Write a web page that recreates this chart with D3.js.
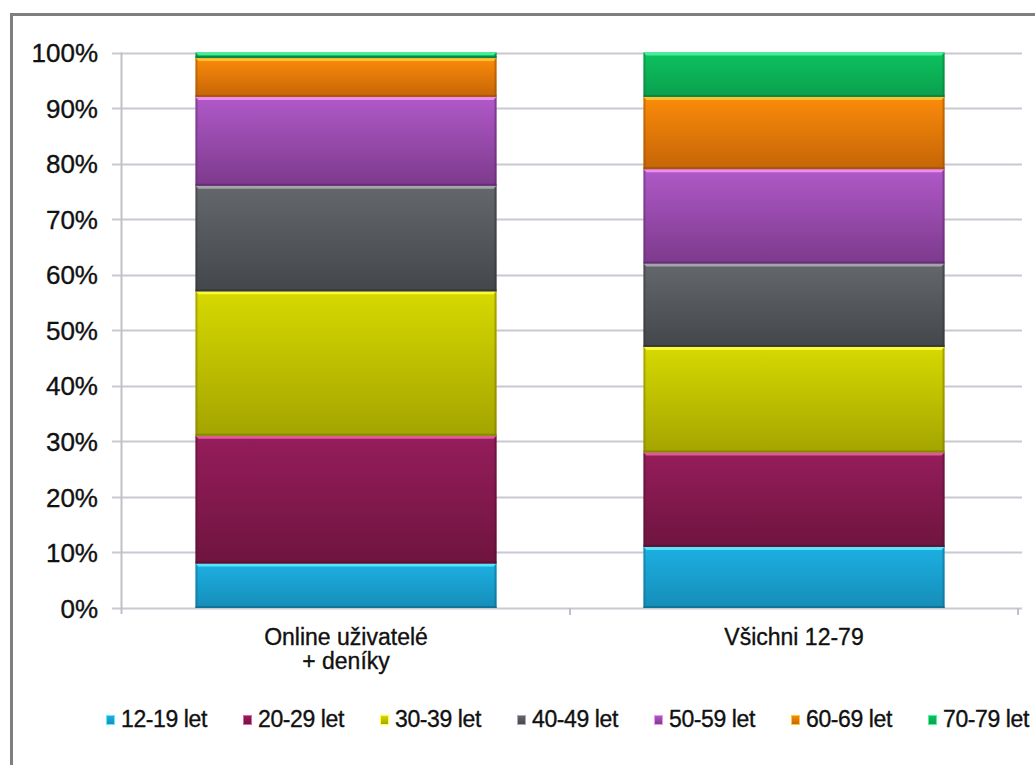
<!DOCTYPE html>
<html>
<head>
<meta charset="utf-8">
<script src="https://cdn.jsdelivr.net/npm/d3@7"></script>
<style>
  html, body { margin: 0; padding: 0; background: #fff; overflow: hidden; }
  svg { display: block; font-family: "Liberation Sans", Arial, sans-serif; }
  .lbl { fill: #111; stroke: #111; stroke-width: 0.35px; }
</style>
</head>
<body>
<svg id="chart" width="1035" height="765"></svg>
<script>
// ***** Data *****
const categories = ["Online uživatelé + deníky", "Všichni 12-79"];
const categoryLines = [["Online uživatelé", "+ deníky"], ["Všichni 12-79"]];
const ageGroups = ["12-19 let", "20-29 let", "30-39 let", "40-49 let", "50-59 let", "60-69 let", "70-79 let"];
// share of each age group in %, per category
const onlineValues = [8, 23, 26, 19, 16, 7, 1];
const allValues = [11, 17, 19, 15, 17, 13, 8];
const yTicks = [0, 10, 20, 30, 40, 50, 60, 70, 80, 90, 100];

// colours: top of gradient, bottom of gradient, highlight edge, dark edge
const colorTop = ["#1cb0e2", "#951d5b", "#d6d900", "#64686c", "#b059c8", "#fb8b0a", "#0dc25e"];
const colorBottom = ["#168db8", "#6f143f", "#a4a400", "#43464a", "#7c3a8c", "#c56507", "#0a9f4e"];
const colorLight = ["#5cecff", "#e8609f", "#ffff36", "#a9adb1", "#f392f8", "#ffc635", "#46f59c"];
const colorDark = ["#0e6a8a", "#52102f", "#7a7a00", "#303336", "#5c2a69", "#9a4e05", "#077a3b"];

const rows = categories.map(function(c, i) {
  const row = { category: c };
  ageGroups.forEach(function(g, j) {
    row[g] = i === 0 ? onlineValues[j] : allValues[j];
  });
  return row;
});

const svg = d3.select("#chart");

// ***** Scales *****
const xScale = d3.scaleBand()
  .domain(categories)
  .range([122, 1018])
  .paddingInner(0.328)
  .paddingOuter(0.164);

const yScale = d3.scaleLinear()
  .domain([0, 100])
  .range([608, 52.5]);

// ***** Outer frame *****
svg.append("rect")
  .attr("x", 11.5)
  .attr("y", 14.5)
  .attr("width", 1100)
  .attr("height", 800)
  .attr("fill", "none")
  .attr("stroke", "#7f7f7f")
  .attr("stroke-width", 3);

// ***** Gradients *****
const defs = svg.append("defs");
ageGroups.forEach(function(g, i) {
  const grad = defs.append("linearGradient")
    .attr("id", "grad" + i)
    .attr("x1", 0).attr("y1", 0).attr("x2", 0).attr("y2", 1);
  grad.append("stop").attr("offset", "0%").attr("stop-color", colorTop[i]);
  grad.append("stop").attr("offset", "100%").attr("stop-color", colorBottom[i]);
});

// ***** Gridlines *****
svg.append("g")
  .selectAll("line")
  .data(yTicks)
  .join("line")
  .attr("x1", 112)
  .attr("x2", 1022)
  .attr("y1", d => Math.round(yScale(d)) + 0.5)
  .attr("y2", d => Math.round(yScale(d)) + 0.5)
  .attr("stroke", "#c9c9d2")
  .attr("stroke-width", 2);

// y axis line
svg.append("line")
  .attr("x1", 121.5).attr("x2", 121.5)
  .attr("y1", yScale(100)).attr("y2", yScale(0) + 6)
  .attr("stroke", "#c0c0ca")
  .attr("stroke-width", 2);

// category separators on x axis
const bounds = [xScale.range()[0], (xScale(categories[0]) + xScale.bandwidth() + xScale(categories[1])) / 2, xScale.range()[1]];
svg.append("g")
  .selectAll("line")
  .data(bounds.slice(1))
  .join("line")
  .attr("x1", d => d).attr("x2", d => d)
  .attr("y1", yScale(0)).attr("y2", yScale(0) + 7)
  .attr("stroke", "#c0c0ca")
  .attr("stroke-width", 2);

// ***** Y axis labels *****
const yAxis = d3.axisLeft(yScale)
  .tickValues(yTicks)
  .tickSize(0)
  .tickPadding(0)
  .tickFormat(d => d + "%");

svg.append("g")
  .attr("transform", "translate(98,0)")
  .call(yAxis)
  .call(g => g.select(".domain").remove())
  .call(g => g.selectAll("text")
    .attr("class", "lbl")
    .attr("font-size", 26)
    .attr("font-family", "'Liberation Sans', Arial, sans-serif")
    .attr("dy", "0.35em"));

// ***** Stacked bars *****
const stacked = d3.stack().keys(ageGroups)(rows);

const layers = svg.append("g")
  .selectAll("g.layer")
  .data(stacked)
  .join("g")
  .attr("class", "layer");

layers.each(function(layer, i) {
  const g = d3.select(this);
  const segs = g.selectAll("g.seg")
    .data(layer.filter(d => d[1] > d[0]))
    .join("g")
    .attr("class", "seg");

  // body
  segs.append("rect")
    .attr("x", d => xScale(d.data.category))
    .attr("y", d => yScale(d[1]))
    .attr("width", xScale.bandwidth())
    .attr("height", d => yScale(d[0]) - yScale(d[1]))
    .attr("fill", "url(#grad" + i + ")");

  // dark side edges
  segs.append("rect")
    .attr("x", d => xScale(d.data.category))
    .attr("y", d => yScale(d[1]))
    .attr("width", 2)
    .attr("height", d => yScale(d[0]) - yScale(d[1]))
    .attr("fill", colorDark[i])
    .attr("opacity", 0.45);
  segs.append("rect")
    .attr("x", d => xScale(d.data.category) + xScale.bandwidth() - 2)
    .attr("y", d => yScale(d[1]))
    .attr("width", 2)
    .attr("height", d => yScale(d[0]) - yScale(d[1]))
    .attr("fill", colorDark[i])
    .attr("opacity", 0.55);

  // dark bottom edge
  segs.append("rect")
    .attr("x", d => xScale(d.data.category))
    .attr("y", d => yScale(d[0]) - 2)
    .attr("width", xScale.bandwidth())
    .attr("height", 2)
    .attr("fill", colorDark[i])
    .attr("opacity", 0.7);

  // bright bevelled top edge
  segs.append("path")
    .attr("d", function(d) {
      const x0 = xScale(d.data.category);
      const x1 = x0 + xScale.bandwidth();
      const y0 = yScale(d[1]);
      const h = Math.min(3, (yScale(d[0]) - y0) / 2);
      return "M" + x0 + "," + y0 + "L" + x1 + "," + y0 +
        "L" + (x1 - 3) + "," + (y0 + h) + "L" + (x0 + 3) + "," + (y0 + h) + "Z";
    })
    .attr("fill", colorLight[i])
    .attr("opacity", 0.9);
});

// ***** Category labels *****
svg.append("g")
  .selectAll("text")
  .data(categories)
  .join("text")
  .attr("class", "lbl")
  .attr("x", d => xScale(d) + xScale.bandwidth() / 2)
  .attr("y", 645)
  .attr("text-anchor", "middle")
  .attr("font-size", 23)
  .each(function(d, i) {
    d3.select(this)
      .selectAll("tspan")
      .data(categoryLines[i])
      .join("tspan")
      .attr("x", xScale(d) + xScale.bandwidth() / 2)
      .attr("dy", (t, k) => k === 0 ? 0 : 24)
      .text(t => t);
  });

// ***** Legend *****
const legend = svg.append("g")
  .selectAll("g")
  .data(ageGroups)
  .join("g")
  .attr("transform", (d, i) => "translate(" + (106 + i * 137) + ",0)");

legend.append("rect")
  .attr("x", 0.5)
  .attr("y", 715.5)
  .attr("width", 8)
  .attr("height", 9)
  .attr("fill", (d, i) => "url(#grad" + i + ")")
  .attr("stroke", (d, i) => colorLight[i])
  .attr("stroke-width", 1);

legend.append("text")
  .attr("class", "lbl")
  .attr("x", 15)
  .attr("y", 727)
  .attr("font-size", 23)
  .attr("letter-spacing", -0.4)
  .text(d => d);
</script>
</body>
</html>
